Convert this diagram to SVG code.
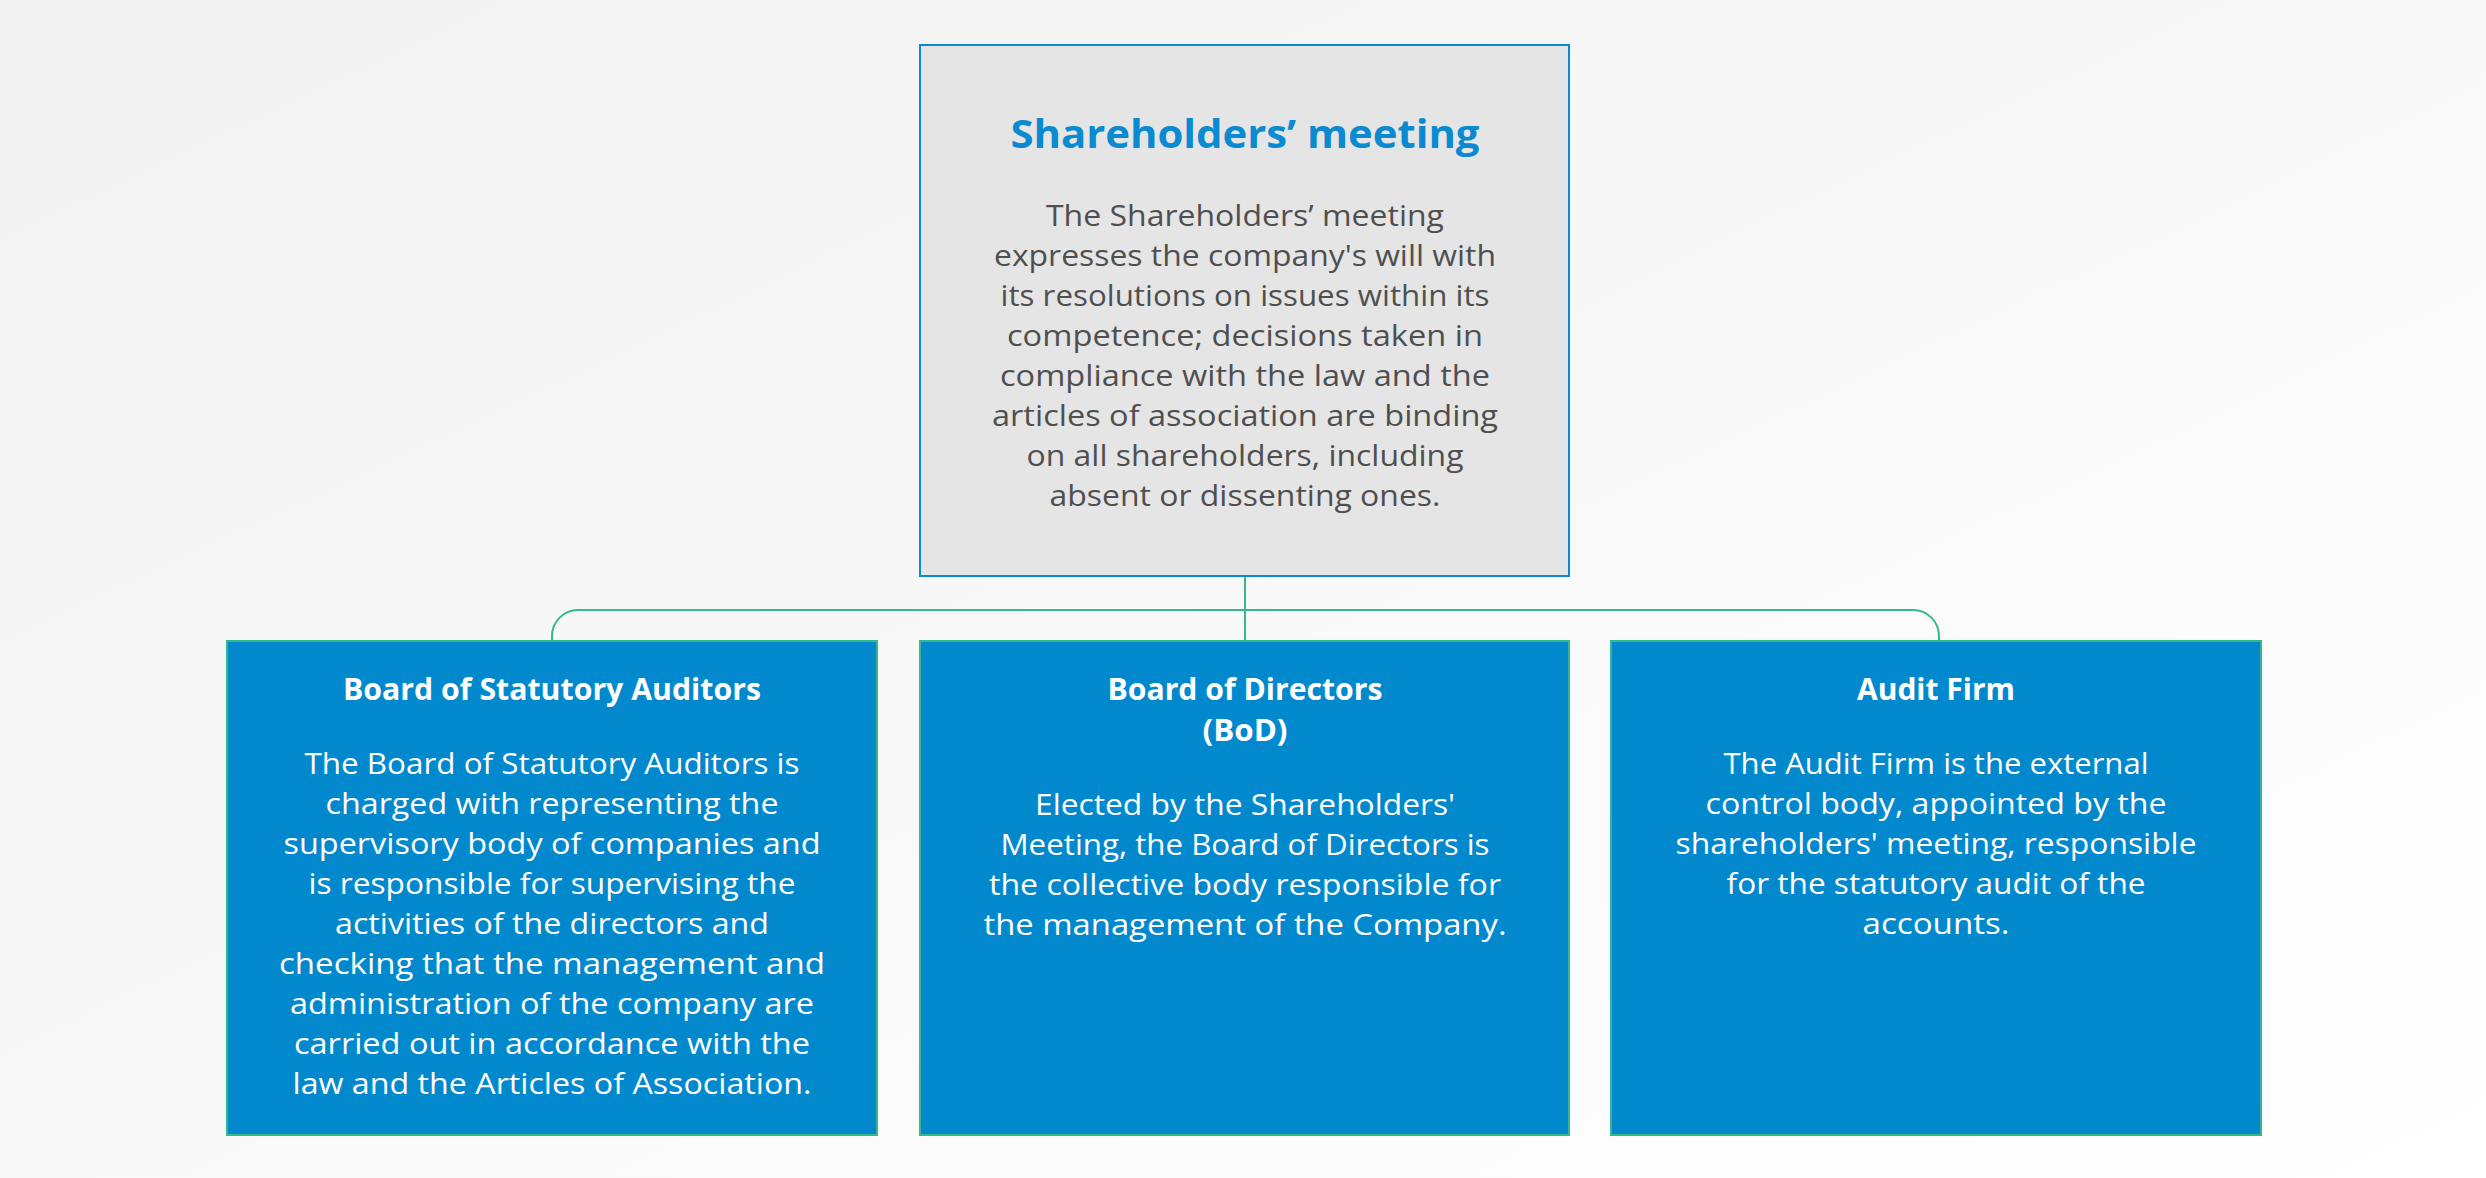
<svg xmlns="http://www.w3.org/2000/svg" width="2486" height="1178" viewBox="0 0 2486 1178">
<defs>
<linearGradient id="bg" x1="0" y1="0" x2="1" y2="1">
<stop offset="0" stop-color="#f2f2f2"/>
<stop offset="1" stop-color="#ffffff"/>
</linearGradient>
</defs>
<style>
.top{fill:#e5e5e5;stroke:#0a8ad0;stroke-width:2}
.box{fill:#0289cd;stroke:#34b98b;stroke-width:2}
.conn{fill:none;stroke:#34b98b;stroke-width:2}
text{font-family:"Open Sans","Liberation Sans",sans-serif;text-anchor:middle}
.t1{font-size:40px;font-weight:bold;fill:#0a8ad0}
.b1{font-size:29px;fill:#4f4f4f}
.t2{font-size:30px;font-weight:bold;fill:#ffffff}
.b2{font-size:29px;fill:#ffffff}
</style>
<rect width="2486" height="1178" fill="url(#bg)"/>
<g id="connectors">
<path class="conn" d="M1245 576 V640"/>
<path class="conn" d="M552 640 V636 A26 26 0 0 1 578 610 H1913 A26 26 0 0 1 1939 636 V640"/>
</g>
<g id="shareholders">
<rect class="top" x="920" y="45" width="649" height="531"/>
<text class="t1" x="1245" y="148" textLength="469" lengthAdjust="spacingAndGlyphs">Shareholders’ meeting</text>
<text class="b1" x="1245" y="226" textLength="398" lengthAdjust="spacingAndGlyphs">The Shareholders’ meeting</text>
<text class="b1" x="1245" y="266" textLength="502" lengthAdjust="spacingAndGlyphs">expresses the company's will with</text>
<text class="b1" x="1245" y="306" textLength="489" lengthAdjust="spacingAndGlyphs">its resolutions on issues within its</text>
<text class="b1" x="1245" y="346" textLength="476" lengthAdjust="spacingAndGlyphs">competence; decisions taken in</text>
<text class="b1" x="1245" y="386" textLength="490" lengthAdjust="spacingAndGlyphs">compliance with the law and the</text>
<text class="b1" x="1245" y="426" textLength="506" lengthAdjust="spacingAndGlyphs">articles of association are binding</text>
<text class="b1" x="1245" y="466" textLength="437" lengthAdjust="spacingAndGlyphs">on all shareholders, including</text>
<text class="b1" x="1245" y="506" textLength="391" lengthAdjust="spacingAndGlyphs">absent or dissenting ones.</text>
</g>
<g id="statutory-auditors">
<rect class="box" x="227" y="641" width="650" height="494"/>
<text class="t2" x="552" y="700" textLength="418" lengthAdjust="spacingAndGlyphs">Board of Statutory Auditors</text>
<text class="b2" x="552" y="774" textLength="495" lengthAdjust="spacingAndGlyphs">The Board of Statutory Auditors is</text>
<text class="b2" x="552" y="814" textLength="453" lengthAdjust="spacingAndGlyphs">charged with representing the</text>
<text class="b2" x="552" y="854" textLength="537" lengthAdjust="spacingAndGlyphs">supervisory body of companies and</text>
<text class="b2" x="552" y="894" textLength="487" lengthAdjust="spacingAndGlyphs">is responsible for supervising the</text>
<text class="b2" x="552" y="934" textLength="434" lengthAdjust="spacingAndGlyphs">activities of the directors and</text>
<text class="b2" x="552" y="974" textLength="546" lengthAdjust="spacingAndGlyphs">checking that the management and</text>
<text class="b2" x="552" y="1014" textLength="524" lengthAdjust="spacingAndGlyphs">administration of the company are</text>
<text class="b2" x="552" y="1054" textLength="516" lengthAdjust="spacingAndGlyphs">carried out in accordance with the</text>
<text class="b2" x="552" y="1094" textLength="519" lengthAdjust="spacingAndGlyphs">law and the Articles of Association.</text>
</g>
<g id="board-of-directors">
<rect class="box" x="920" y="641" width="649" height="494"/>
<text class="t2" x="1245" y="700" textLength="275" lengthAdjust="spacingAndGlyphs">Board of Directors</text>
<text class="t2" x="1245" y="741" textLength="85" lengthAdjust="spacingAndGlyphs">(BoD)</text>
<text class="b2" x="1245" y="815" textLength="420" lengthAdjust="spacingAndGlyphs">Elected by the Shareholders'</text>
<text class="b2" x="1245" y="855" textLength="489" lengthAdjust="spacingAndGlyphs">Meeting, the Board of Directors is</text>
<text class="b2" x="1245" y="895" textLength="512" lengthAdjust="spacingAndGlyphs">the collective body responsible for</text>
<text class="b2" x="1245" y="935" textLength="523" lengthAdjust="spacingAndGlyphs">the management of the Company.</text>
</g>
<g id="audit-firm">
<rect class="box" x="1611" y="641" width="650" height="494"/>
<text class="t2" x="1936" y="700" textLength="158" lengthAdjust="spacingAndGlyphs">Audit Firm</text>
<text class="b2" x="1936" y="774" textLength="425" lengthAdjust="spacingAndGlyphs">The Audit Firm is the external</text>
<text class="b2" x="1936" y="814" textLength="461" lengthAdjust="spacingAndGlyphs">control body, appointed by the</text>
<text class="b2" x="1936" y="854" textLength="521" lengthAdjust="spacingAndGlyphs">shareholders' meeting, responsible</text>
<text class="b2" x="1936" y="894" textLength="419" lengthAdjust="spacingAndGlyphs">for the statutory audit of the</text>
<text class="b2" x="1936" y="934" textLength="147" lengthAdjust="spacingAndGlyphs">accounts.</text>
</g>
</svg>
